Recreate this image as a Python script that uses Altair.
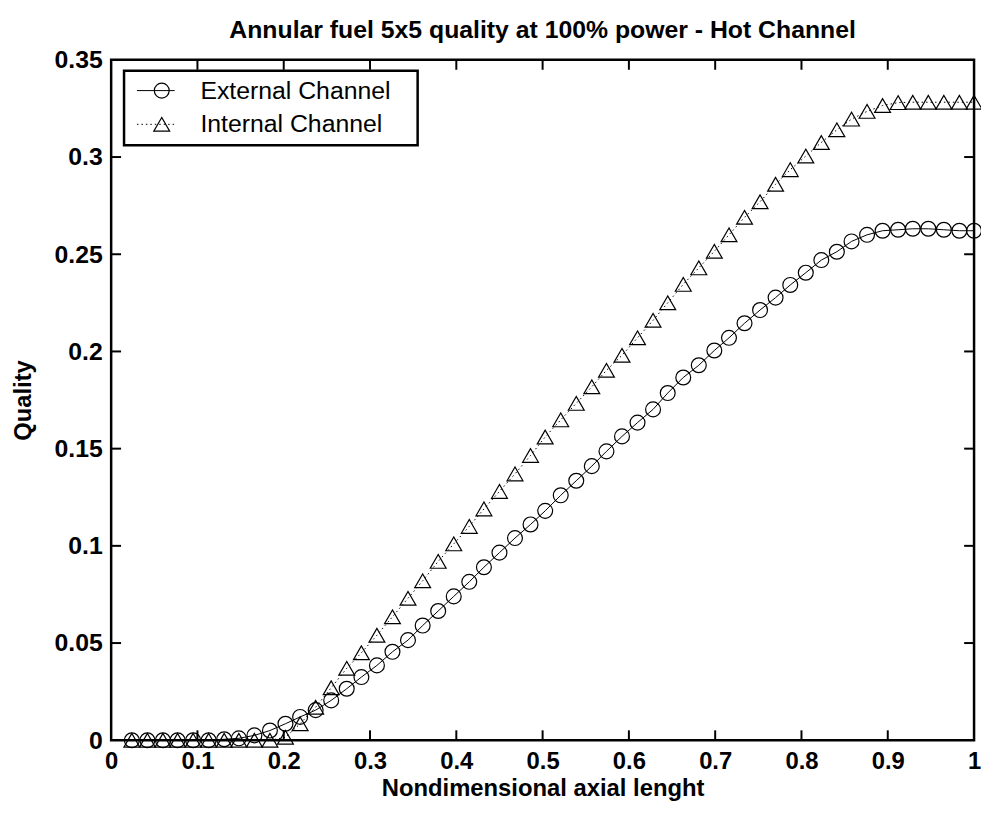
import altair as alt
import pandas as pd

# ---------------- data ----------------
x_pos = [0.024, 0.042, 0.060, 0.077, 0.095, 0.113, 0.131, 0.148, 0.166, 0.184,
         0.202, 0.219, 0.237, 0.255, 0.273, 0.290, 0.308, 0.326, 0.344, 0.361,
         0.379, 0.397, 0.415, 0.432, 0.450, 0.468, 0.486, 0.503, 0.521, 0.539,
         0.557, 0.574, 0.592, 0.610, 0.628, 0.645, 0.663, 0.681, 0.699, 0.716,
         0.734, 0.752, 0.770, 0.787, 0.805, 0.823, 0.841, 0.858, 0.876, 0.894,
         0.912, 0.929, 0.947, 0.965, 0.983, 1.000]

external = [0.0, 0.0, 0.0, 0.0, 0.0, 0.0, 0.0005, 0.001, 0.0025, 0.005,
            0.0085, 0.012, 0.0155, 0.0205, 0.0265, 0.0325, 0.0385, 0.0455, 0.0515, 0.059,
            0.0665, 0.074, 0.0815, 0.089, 0.0965, 0.1040, 0.111, 0.118, 0.126, 0.1335,
            0.141, 0.1486, 0.1563, 0.1634, 0.1702, 0.1786, 0.1866, 0.1929, 0.2005, 0.207,
            0.2145, 0.2213, 0.2277, 0.2342, 0.2405, 0.247, 0.2513, 0.2566, 0.260, 0.2621,
            0.2626, 0.2631, 0.2631, 0.2626, 0.2621, 0.2621]

internal = [0.0, 0.0, 0.0, 0.0, 0.0, 0.0, 0.0, 0.0, 0.0, 0.0,
            0.0015, 0.0085, 0.017, 0.027, 0.037, 0.045, 0.054, 0.0635, 0.073, 0.082,
            0.092, 0.101, 0.110, 0.119, 0.128, 0.137, 0.1465, 0.156, 0.1648, 0.1733,
            0.1818, 0.1903, 0.198, 0.207, 0.216, 0.225, 0.2345, 0.243, 0.2515, 0.260,
            0.269, 0.277, 0.286, 0.2935, 0.3005, 0.3075, 0.314, 0.3195, 0.3235, 0.3265,
            0.328, 0.3282, 0.3282, 0.3282, 0.3282, 0.3282]

series_names = ["External Channel", "Internal Channel"]
x_ticks = [0, 0.1, 0.2, 0.3, 0.4, 0.5, 0.6, 0.7, 0.8, 0.9, 1]
y_ticks = [0, 0.05, 0.1, 0.15, 0.2, 0.25, 0.3, 0.35]
x_inner_ticks = [0.1, 0.2, 0.3, 0.4, 0.5, 0.6, 0.7, 0.8, 0.9]
y_inner_ticks = [0.05, 0.1, 0.15, 0.2, 0.25, 0.3]

title_text = "Annular fuel 5x5 quality at 100% power - Hot Channel"
x_title = "Nondimensional axial lenght"
y_title = "Quality"

W, H = 870, 686
FONT = "Liberation Sans"

ext_df = pd.DataFrame({"x": x_pos, "y": external})
int_df = pd.DataFrame({"x": x_pos, "y": internal})

x_axis = alt.Axis(values=x_ticks, format=".1~f", title=x_title, labelFlush=False,
                  labelFont=FONT, labelFontSize=24, labelFontWeight="bold",
                  labelBaseline="alphabetic", labelPadding=28,
                  titleFont=FONT, titleFontSize=24, titleFontWeight="bold",
                  titleBaseline="alphabetic", titleY=56)
y_axis = alt.Axis(values=y_ticks, format=".2~f", title=y_title, labelFlush=False,
                  labelFont=FONT, labelFontSize=25, labelFontWeight="bold",
                  labelPadding=9,
                  titleFont=FONT, titleFontSize=24, titleFontWeight="bold",
                  titleAngle=270, titleBaseline="alphabetic", titleAlign="center",
                  titleX=-81, titleY=343)
x_scale = alt.Scale(domain=[0, 1], nice=False, zero=False)
y_scale = alt.Scale(domain=[0, 0.35], nice=False, zero=False)


def xe(field="x"):
    return alt.X(f"{field}:Q", scale=x_scale, axis=x_axis)


def ye(field="y"):
    return alt.Y(f"{field}:Q", scale=y_scale, axis=y_axis)


ext_line = alt.Chart(ext_df).mark_line(color="black", strokeWidth=1).encode(x=xe(), y=ye())
int_line = alt.Chart(int_df).mark_line(color="black", strokeWidth=1, strokeDash=[1.5, 3]).encode(x=xe(), y=ye())
ext_pts = alt.Chart(ext_df).mark_point(shape="circle", size=225, filled=False, color="black",
                                       strokeWidth=1.2, opacity=1).encode(x=xe(), y=ye())
int_pts = alt.Chart(int_df).mark_point(shape="triangle-up", size=256, filled=False, color="black",
                                       strokeWidth=1.2, opacity=1).encode(x=xe(), y=ye())

# inward ticks on all four sides (MATLAB style)
xt_df = pd.DataFrame({"x": x_inner_ticks})
yt_df = pd.DataFrame({"y": y_inner_ticks})
tick_style = dict(color="black", strokeWidth=2)
tick_bottom = alt.Chart(xt_df).mark_rule(**tick_style).encode(x=xe(), y=alt.value(H - 10), y2=alt.value(H))
tick_top = alt.Chart(xt_df).mark_rule(**tick_style).encode(x=xe(), y=alt.value(0), y2=alt.value(10))
tick_left = alt.Chart(yt_df).mark_rule(**tick_style).encode(y=ye(), x=alt.value(0), x2=alt.value(10))
tick_right = alt.Chart(yt_df).mark_rule(**tick_style).encode(y=ye(), x=alt.value(W - 10), x2=alt.value(W))

# chart title as a text mark above the plot
title_df = pd.DataFrame({"t": [title_text]})
title_mark = alt.Chart(title_df).mark_text(
    font=FONT, fontSize=25, fontWeight="bold", color="black",
    align="center", baseline="alphabetic").encode(
    text="t:N", x=alt.value(W / 2), y=alt.value(-22))

# legend box (upper left, inside the plot)
one = pd.DataFrame({"k": [0]})
leg_box = alt.Chart(one).mark_rect(fill="white", stroke="black", strokeWidth=2.5).encode(
    x=alt.value(13), x2=alt.value(309), y=alt.value(11), y2=alt.value(86))
leg_layers = []
row_y = [31, 65]
for i, name in enumerate(series_names):
    ldf = pd.DataFrame({"label": [name]})
    line_kw = dict(color="black", strokeWidth=1)
    if i == 1:
        line_kw["strokeDash"] = [1.5, 3]
    leg_layers.append(alt.Chart(ldf).mark_rule(**line_kw).encode(
        x=alt.value(26), x2=alt.value(64), y=alt.value(row_y[i])))
    leg_layers.append(alt.Chart(ldf).mark_point(
        shape="circle" if i == 0 else "triangle-up", size=225 if i == 0 else 256,
        filled=False, color="black", strokeWidth=1.2, opacity=1).encode(
        x=alt.value(51), y=alt.value(row_y[i])))
    leg_layers.append(alt.Chart(ldf).mark_text(
        font=FONT, fontSize=25, align="left", baseline="middle", color="black").encode(
        text="label:N", x=alt.value(90), y=alt.value(row_y[i])))

chart = alt.layer(
    ext_line, int_line, ext_pts, int_pts,
    tick_bottom, tick_top, tick_left, tick_right,
    leg_box, *leg_layers, title_mark,
).properties(
    width=W, height=H,
    padding={"left": 104, "top": 49, "right": 7, "bottom": 61},
    autosize=alt.AutoSizeParams(type="none"),
    background="white",
).configure_view(
    stroke="black", strokeWidth=2.5
).configure_axis(
    domain=False, ticks=False, grid=False, labelColor="black", titleColor="black"
)

chart.save("out.html", embed_options={"renderer": "svg", "actions": False})
